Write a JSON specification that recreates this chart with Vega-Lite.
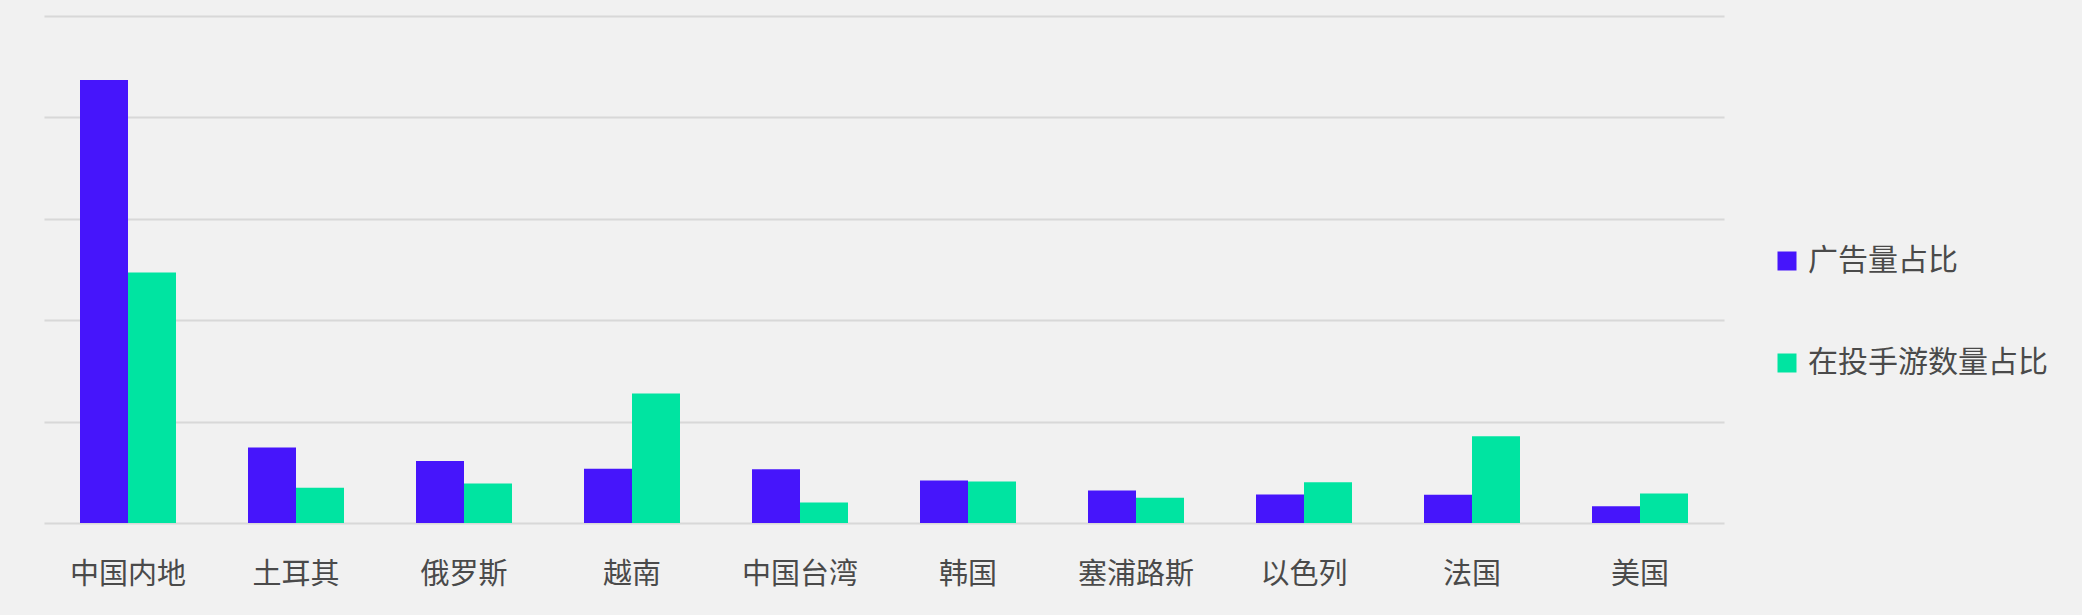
{
  "$schema": "https://vega.github.io/schema/vega-lite/v6.json",
  "description": "广告量占比 vs 在投手游数量占比, grouped bars",
  "autosize": "none",
  "padding": {"left": 44, "top": 16, "right": 358, "bottom": 92},
  "width": 1680,
  "height": 507,
  "background": "#f1f1f1",
  "data": {
    "values": [
      {"region": "中国内地", "series": "广告量占比", "value": 43.7},
      {"region": "中国内地", "series": "在投手游数量占比", "value": 24.7},
      {"region": "土耳其", "series": "广告量占比", "value": 7.45},
      {"region": "土耳其", "series": "在投手游数量占比", "value": 3.48},
      {"region": "俄罗斯", "series": "广告量占比", "value": 6.11},
      {"region": "俄罗斯", "series": "在投手游数量占比", "value": 3.9},
      {"region": "越南", "series": "广告量占比", "value": 5.35},
      {"region": "越南", "series": "在投手游数量占比", "value": 12.76},
      {"region": "中国台湾", "series": "广告量占比", "value": 5.3},
      {"region": "中国台湾", "series": "在投手游数量占比", "value": 2.02},
      {"region": "韩国", "series": "广告量占比", "value": 4.19},
      {"region": "韩国", "series": "在投手游数量占比", "value": 4.09},
      {"region": "塞浦路斯", "series": "广告量占比", "value": 3.2},
      {"region": "塞浦路斯", "series": "在投手游数量占比", "value": 2.48},
      {"region": "以色列", "series": "广告量占比", "value": 2.81},
      {"region": "以色列", "series": "在投手游数量占比", "value": 4.02},
      {"region": "法国", "series": "广告量占比", "value": 2.78},
      {"region": "法国", "series": "在投手游数量占比", "value": 8.55},
      {"region": "美国", "series": "广告量占比", "value": 1.66},
      {"region": "美国", "series": "在投手游数量占比", "value": 2.9}
    ]
  },
  "mark": {"type": "bar"},
  "encoding": {
    "x": {
      "field": "region",
      "type": "nominal",
      "sort": null,
      "scale": {"paddingInner": 0.4286, "paddingOuter": 0.2143},
      "axis": {
        "title": null,
        "labelAngle": 0,
        "ticks": false,
        "domain": false,
        "labelFont": "Noto Sans CJK SC",
        "labelFontSize": 29,
        "labelColor": "#4a4a4a",
        "labelPadding": 37
      }
    },
    "xOffset": {"field": "series", "sort": ["广告量占比", "在投手游数量占比"]},
    "y": {
      "field": "value",
      "type": "quantitative",
      "scale": {"domain": [0, 50], "nice": false},
      "axis": {
        "title": null,
        "labels": false,
        "ticks": false,
        "domain": false,
        "values": [0, 10, 20, 30, 40, 50],
        "gridColor": "#d8d8d8",
        "gridWidth": 2
      }
    },
    "color": {
      "field": "series",
      "type": "nominal",
      "sort": ["广告量占比", "在投手游数量占比"],
      "scale": {"range": ["#4615fb", "#00e4a1"]},
      "legend": {
        "title": null,
        "orient": "none",
        "legendX": 1728,
        "legendY": 230,
        "symbolType": "square",
        "symbolSize": 361,
        "symbolStrokeWidth": 0,
        "labelFont": "Noto Sans CJK SC",
        "labelFontSize": 30,
        "labelColor": "#4a4a4a",
        "labelOffset": 6,
        "labelLimit": 400,
        "rowPadding": 72
      }
    }
  },
  "config": {
    "view": {"stroke": null},
    "font": "Noto Sans CJK SC"
  }
}
